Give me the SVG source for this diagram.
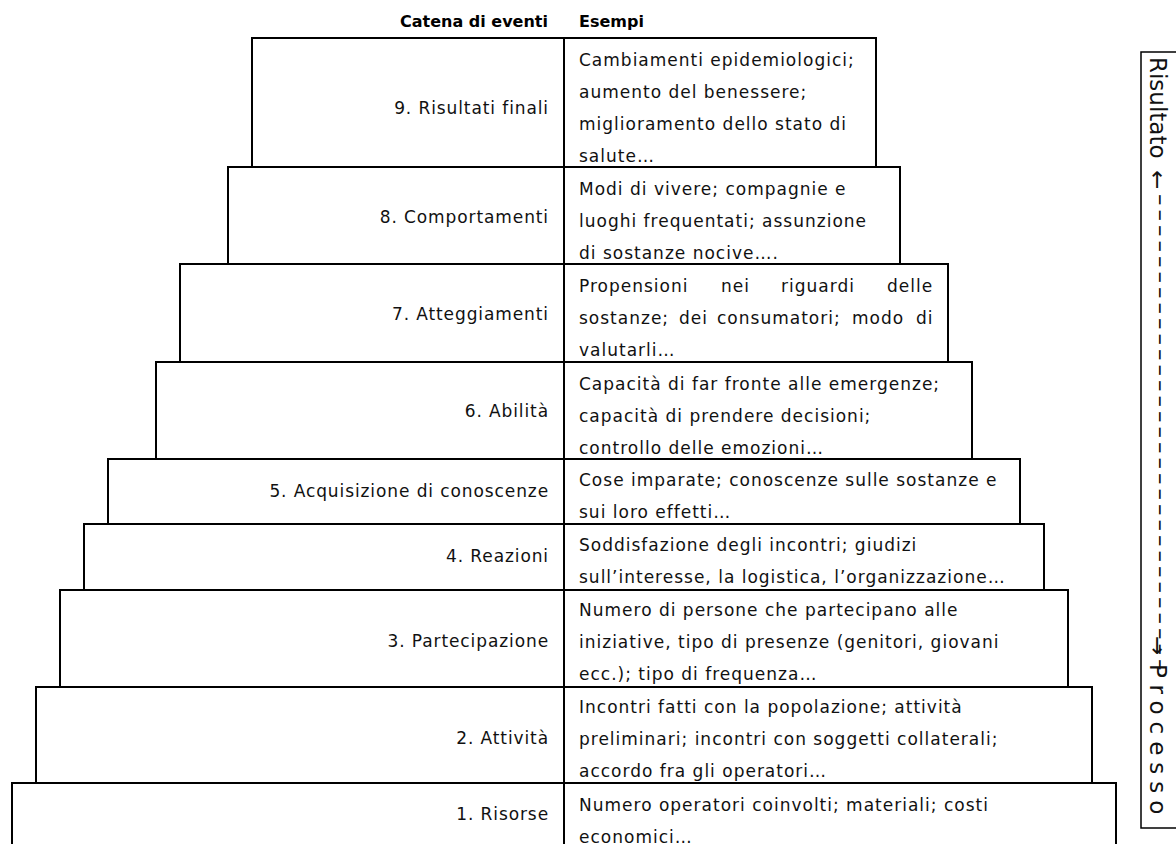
<svg xmlns="http://www.w3.org/2000/svg" width="1176" height="844" viewBox="0 0 1176 844">
<style>
.box{fill:#fff;stroke:#000;stroke-width:2}
.div{stroke:#000;stroke-width:2}
.lbl{font-family:"DejaVu Sans",sans-serif;font-size:17px;letter-spacing:0.9px;text-anchor:end;fill:#111}
.ex{font-family:"DejaVu Sans",sans-serif;font-size:17px;letter-spacing:1px;fill:#111}
.hdr{font-family:"DejaVu Sans",sans-serif;font-size:16px;font-weight:bold;fill:#000}
.side{font-family:"DejaVu Sans",sans-serif;font-size:23px;fill:#111}
.brk{fill:none;stroke:#000;stroke-width:1.5}
</style>
<rect width="1176" height="844" fill="#fff"/>
<g id="headers">
<text class="hdr" x="548" y="27" text-anchor="end">Catena di eventi</text>
<text class="hdr" x="579" y="27">Esempi</text>
</g>
<g id="node9">
<rect class="box" x="252" y="38" width="624" height="129"/>
<line class="div" x1="564" y1="38" x2="564" y2="167"/>
<text class="lbl" x="549" y="114">9. Risultati finali</text>
<text class="ex"><tspan x="579" y="66">Cambiamenti epidemiologici;</tspan><tspan x="579" y="98">aumento del benessere;</tspan><tspan x="579" y="130">miglioramento dello stato di</tspan><tspan x="579" y="162">salute…</tspan></text>
</g>
<g id="node8">
<rect class="box" x="228" y="167" width="672" height="97"/>
<line class="div" x1="564" y1="167" x2="564" y2="264"/>
<text class="lbl" x="549" y="223">8. Comportamenti</text>
<text class="ex"><tspan x="579" y="195">Modi di vivere; compagnie e</tspan><tspan x="579" y="227">luoghi frequentati; assunzione</tspan><tspan x="579" y="259">di sostanze nocive….</tspan></text>
</g>
<g id="node7">
<rect class="box" x="180" y="264" width="768" height="98"/>
<line class="div" x1="564" y1="264" x2="564" y2="362"/>
<text class="lbl" x="549" y="320">7. Atteggiamenti</text>
<text class="ex"><tspan x="579" y="292">Propensioni</tspan><tspan x="721" y="292">nei</tspan><tspan x="781" y="292">riguardi</tspan><tspan x="887" y="292">delle</tspan><tspan x="579" y="324">sostanze;</tspan><tspan x="679" y="324">dei</tspan><tspan x="717" y="324">consumatori;</tspan><tspan x="852" y="324">modo</tspan><tspan x="916" y="324">di</tspan><tspan x="579" y="356">valutarli…</tspan></text>
</g>
<g id="node6">
<rect class="box" x="156" y="362" width="816" height="97"/>
<line class="div" x1="564" y1="362" x2="564" y2="459"/>
<text class="lbl" x="549" y="417">6. Abilità</text>
<text class="ex"><tspan x="579" y="390">Capacità di far fronte alle emergenze;</tspan><tspan x="579" y="422">capacità di prendere decisioni;</tspan><tspan x="579" y="454">controllo delle emozioni…</tspan></text>
</g>
<g id="node5">
<rect class="box" x="108" y="459" width="912" height="65"/>
<line class="div" x1="564" y1="459" x2="564" y2="524"/>
<text class="lbl" x="549" y="497">5. Acquisizione di conoscenze</text>
<text class="ex"><tspan x="579" y="486">Cose imparate; conoscenze sulle sostanze e</tspan><tspan x="579" y="518">sui loro effetti…</tspan></text>
</g>
<g id="node4">
<rect class="box" x="84" y="524" width="960" height="66"/>
<line class="div" x1="564" y1="524" x2="564" y2="590"/>
<text class="lbl" x="549" y="562">4. Reazioni</text>
<text class="ex"><tspan x="579" y="551">Soddisfazione degli incontri; giudizi</tspan><tspan x="579" y="583">sull’interesse, la logistica, l’organizzazione…</tspan></text>
</g>
<g id="node3">
<rect class="box" x="60" y="590" width="1008" height="97"/>
<line class="div" x1="564" y1="590" x2="564" y2="687"/>
<text class="lbl" x="549" y="647">3. Partecipazione</text>
<text class="ex"><tspan x="579" y="616">Numero di persone che partecipano alle</tspan><tspan x="579" y="648">iniziative, tipo di presenze (genitori, giovani</tspan><tspan x="579" y="680">ecc.); tipo di frequenza…</tspan></text>
</g>
<g id="node2">
<rect class="box" x="36" y="687" width="1056" height="96"/>
<line class="div" x1="564" y1="687" x2="564" y2="783"/>
<text class="lbl" x="549" y="744">2. Attività</text>
<text class="ex"><tspan x="579" y="713">Incontri fatti con la popolazione; attività</tspan><tspan x="579" y="745">preliminari; incontri con soggetti collaterali;</tspan><tspan x="579" y="777">accordo fra gli operatori…</tspan></text>
</g>
<g id="node1">
<rect class="box" x="12" y="783" width="1104" height="70"/>
<line class="div" x1="564" y1="783" x2="564" y2="853"/>
<text class="lbl" x="549" y="820">1. Risorse</text>
<text class="ex"><tspan x="579" y="811">Numero operatori coinvolti; materiali; costi</tspan><tspan x="579" y="843">economici…</tspan></text>
</g>
<g id="axis">
<rect class="brk" x="1141" y="52" width="60" height="776"/>
<text class="side" transform="translate(1150,0) rotate(90)" x="57" y="0">Risultato</text>
<text class="side" transform="translate(1150,0) rotate(90)" x="170" y="0">←</text>
<text class="side" transform="translate(1152.5,0) rotate(90)" x="194" y="0" font-size="18" letter-spacing="4">–––––––––––––––––––––––––––––––</text>
<text class="side" transform="translate(1150,0) rotate(90)" x="636" y="0">→</text>
<text class="side" transform="translate(1150,0) rotate(90)" x="664" y="0" letter-spacing="7">Processo</text>
</g>
</svg>
